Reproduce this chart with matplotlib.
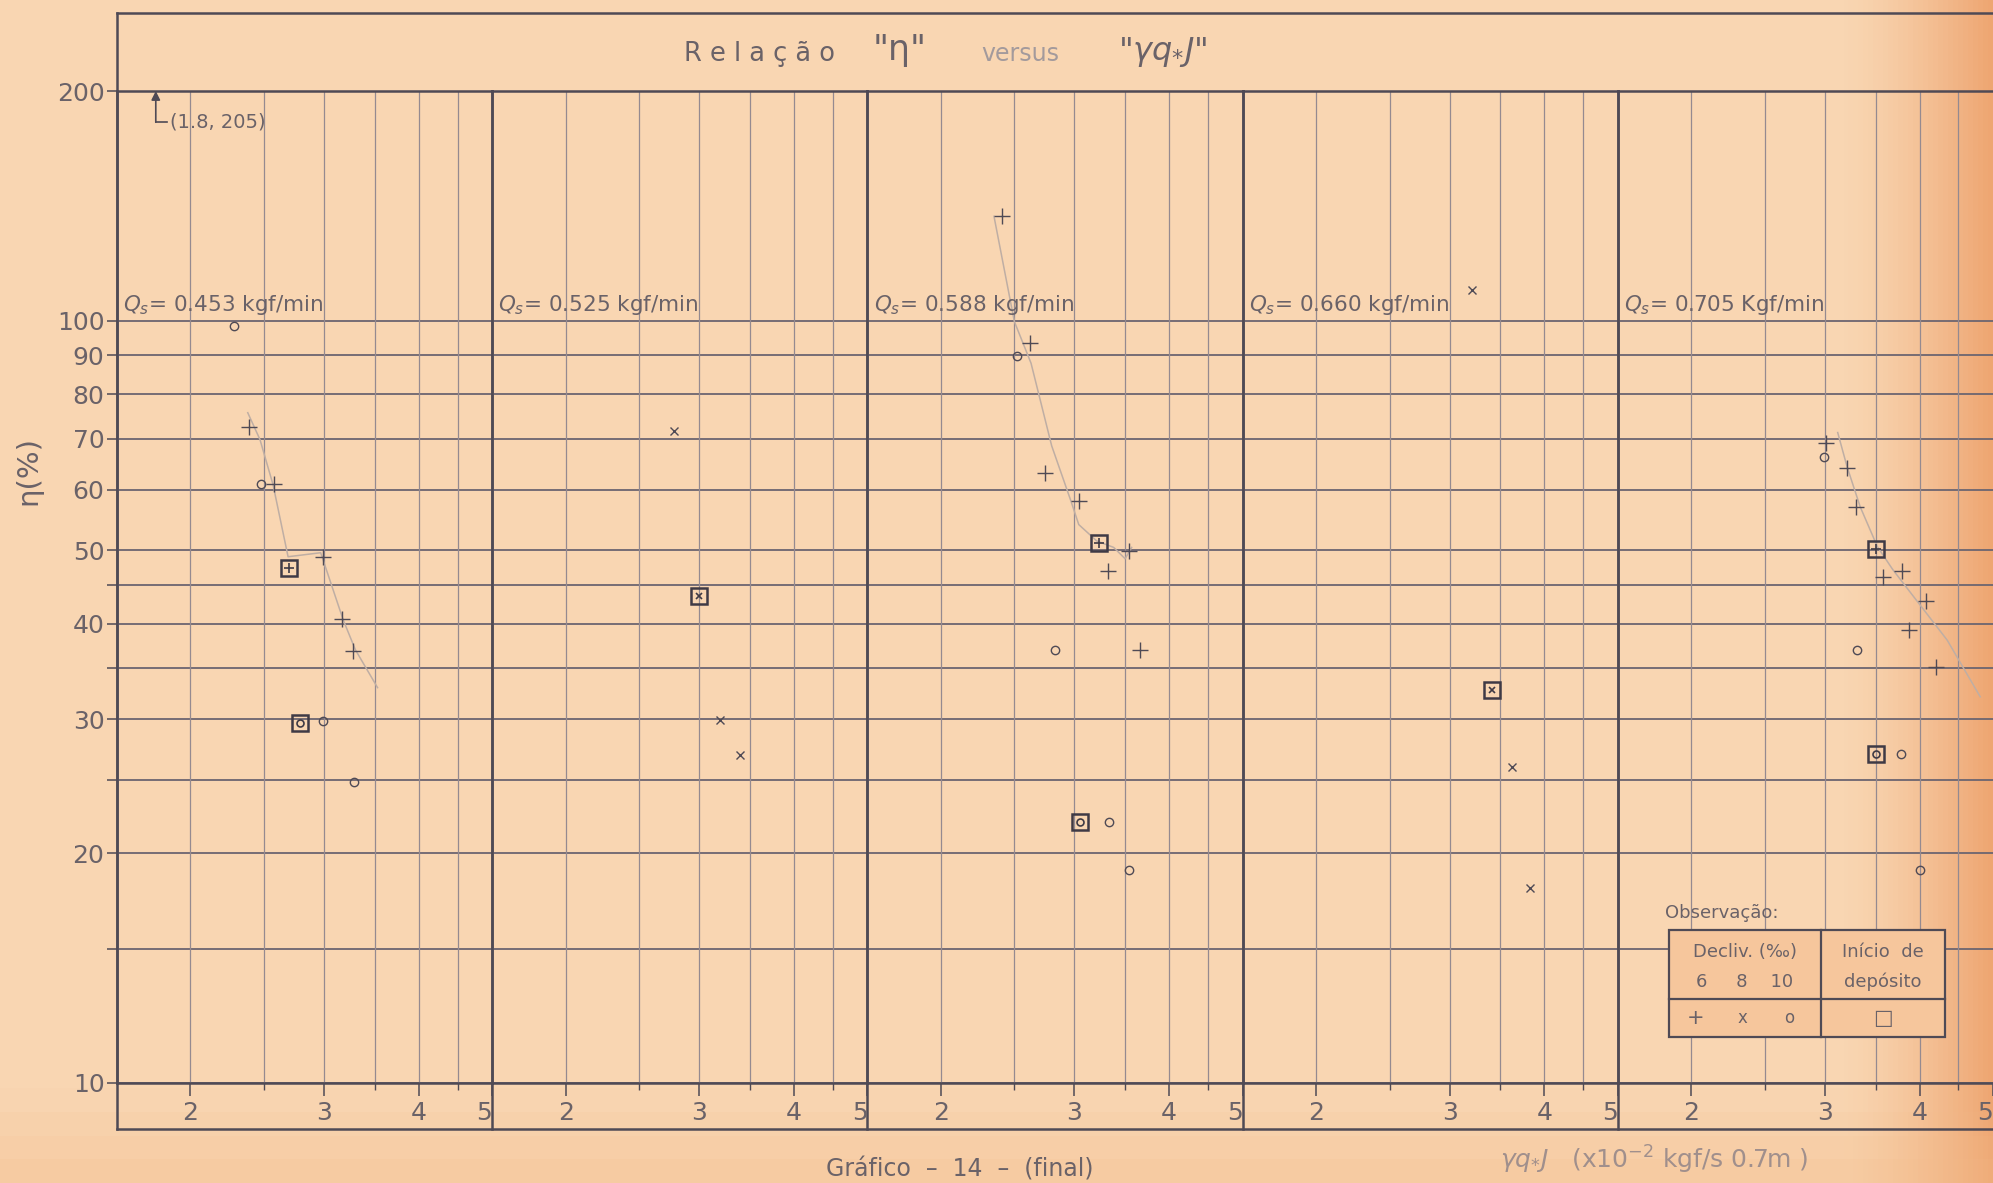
import numpy as np
import matplotlib
matplotlib.use("Agg")
import matplotlib.pyplot as plt
from matplotlib.patches import Rectangle

# ---- data ----
qs_labels = ["0.453 kgf/min", "0.525 kgf/min", "0.588 kgf/min", "0.660 kgf/min", "0.705 Kgf/min"]

# slope 6 per mil  (+)
plus_x = [[2.39, 2.58, 2.99, 3.17, 3.28],
          [],
          [2.41, 2.62, 2.74, 3.04, 3.32, 3.54, 3.66],
          [],
          [3.01, 3.21, 3.30, 3.58, 3.79, 4.08, 3.88, 4.20]]
plus_y = [[72.4, 61.0, 48.9, 40.6, 36.9],
          [],
          [137, 93.3, 63.1, 58.0, 46.9, 49.9, 37.0],
          [],
          [69.0, 64.0, 57.0, 46.1, 46.9, 42.9, 39.3, 35.1]]

# slope 8 per mil  (x)
cross_x = [[], [2.78, 3.20, 3.40], [], [3.21, 3.63, 3.83], []]
cross_y = [[], [71.7, 29.9, 26.9], [], [109.6, 26.0, 18.0], []]

# slope 10 per mil  (o)
circ_x = [[2.28, 2.48, 2.99, 3.29], [], [2.52, 2.83, 3.33, 3.54], [], [2.99, 3.31, 3.78, 4.01]]
circ_y = [[98.5, 61.0, 29.8, 24.8], [], [89.9, 37.0, 22.0, 19.0], [], [66.2, 37.0, 27.0, 19.0]]

# start of deposit (square), with the slope symbol drawn inside
dep_x = [[2.70, 2.79], [3.00], [3.23, 3.05], [3.41], [3.51, 3.51]]
dep_y = [[47.3, 29.7], [43.5], [51.1, 22.0], [32.8], [50.1, 27.0]]
dep_in = [["+", "o"], ["x"], ["+", "o"], ["x"], ["+", "o"]]

# hand drawn trend curves
curve_x = [[2.38, 2.47, 2.57, 2.69, 2.97, 3.18, 3.30, 3.53],
           [],
           [2.35, 2.50, 2.63, 2.80, 2.97, 3.04, 3.21, 3.38, 3.50, 3.57],
           [],
           [3.12, 3.21, 3.34, 3.52, 3.69, 3.96, 4.35, 4.81]]
curve_y = [[75.7, 69.8, 60.9, 49.0, 49.6, 40.5, 37.0, 33.0],
           [],
           [137, 99.7, 87.9, 68.5, 57.9, 54.0, 51.4, 50.4, 48.7, 50.4],
           [],
           [71.3, 64.3, 57.0, 50.5, 47.1, 43.0, 38.1, 32.1]]

y_grid = [10, 15, 20, 25, 30, 35, 40, 45, 50, 60, 70, 80, 90, 100, 200]
y_labels = ["10", "", "20", "", "30", "", "40", "", "50", "60", "70", "80", "90", "100", "200"]
x_grid = [2, 2.5, 3, 3.5, 4, 4.5]
x_ticks = [2, 3, 4, 5]
x_minor = [2.5, 3.5, 4.5]
note_xy = (1.8, 182)

# ---- styling ----
W, H = 1993, 1183
ink = "#4f4a55"
grid_c = "#6c6570"
vgrid_c = "#958a90"
txt_c = "#6a6268"
light = "#bfaea4"
plt.rcParams["font.family"] = ["DejaVu Sans"]

fig = plt.figure(figsize=(W / 100, H / 100), dpi=100)

# paper background (peach, darker orange toward the right edge)
bg = fig.add_axes([0, 0, 1, 1])
bg.set_xlim(0, W)
bg.set_ylim(H, 0)
bg.axis("off")
xs = np.linspace(0, 1, 400)
base = np.array([249, 214, 178]) / 255
edge = np.array([238, 166, 114]) / 255
t = np.clip((xs - 0.925) / 0.075, 0, 1) ** 1.4
row = base[None, :] * (1 - t[:, None]) + edge[None, :] * t[:, None]
img = np.repeat(row[None, :, :], 50, axis=0)
ys = np.linspace(0, 1, 50)
tb = np.clip((ys - 0.93) / 0.07, 0, 1)[:, None, None] * 0.35
img = img * (1 - tb) + (np.array([242, 185, 135]) / 255) * tb
bg.imshow(img, extent=[0, W, H, 0], aspect="auto", zorder=0)

left0, top_frame, y200, y10, strip_b = 117, 13, 91, 1083, 1129
pw = (W - left0) / 5

# outer frame and title box
bg.plot([left0, W], [top_frame, top_frame], color=ink, lw=1.8, zorder=2)
bg.plot([left0, left0], [top_frame, strip_b], color=ink, lw=1.8, zorder=2)
bg.plot([left0, W], [strip_b, strip_b], color=ink, lw=1.8, zorder=2)
for k in range(1, 5):
    xd = left0 + k * pw
    bg.plot([xd, xd], [y10, strip_b], color=ink, lw=1.8, zorder=2)

bg.text(760, 54, "R e l a ç ã o", fontsize=18.5, color=txt_c, ha="center", va="center")
bg.text(900, 50, '"η"', fontsize=25, color=txt_c, ha="center", va="center")
bg.text(1020, 54, "versus", fontsize=17, color="#a39a9c", ha="center", va="center")
bg.text(1163, 52, r'"$\gamma q_{*}J$"', fontsize=23, color=txt_c, ha="center", va="center")
bg.text(28, 470, "η(%)", fontsize=21, color=txt_c, rotation=90, ha="center", va="center")
bg.text(1500, 1160, r"$\gamma q_{*}J$   (x10$^{-2}$ kgf/s 0.7m )", fontsize=18,
        color="#a08f8c", ha="left", va="center")
bg.text(826, 1181, "Gráfico  –  14  –  (final)", fontsize=17, color=txt_c,
        ha="left", va="bottom")

axes = []
for k in range(5):
    ax = fig.add_axes([(left0 + k * pw) / W, (H - y10) / H, pw / W, (y10 - y200) / H])
    ax.patch.set_alpha(0)
    ax.set_xscale("log")
    ax.set_yscale("log")
    ax.set_xlim(1.6, 5)
    ax.set_ylim(10, 200)
    for yv in y_grid:
        ax.axhline(yv, color=grid_c, lw=1.3, zorder=1)
    for xv in x_grid:
        ax.axvline(xv, color=vgrid_c, lw=0.9, zorder=1)
    for sp in ax.spines.values():
        sp.set_color(ink)
        sp.set_linewidth(1.8)
    if k == 4:
        ax.spines["right"].set_visible(False)

    ax.set_xticks(x_ticks)
    ax.set_xticklabels([str(v) for v in x_ticks])
    ax.set_xticks(x_minor, minor=True)
    ax.xaxis.set_minor_formatter(plt.NullFormatter())
    ax.tick_params(axis="x", which="major", direction="out", length=9, width=1.1,
                   color=ink, labelsize=18, labelcolor=txt_c, pad=4)
    ax.tick_params(axis="x", which="minor", direction="out", length=5, width=1.0, color=ink)
    labs = ax.get_xticklabels()
    labs[-1].set_horizontalalignment("right")

    ax.set_yticks(y_grid)
    ax.yaxis.set_minor_locator(plt.NullLocator())
    if k == 0:
        ax.set_yticklabels(y_labels)
        ax.tick_params(axis="y", direction="out", length=7, width=1.1, color=ink,
                       labelsize=18, labelcolor=txt_c, pad=2)
    else:
        ax.set_yticklabels([])
        ax.tick_params(axis="y", length=0)

    ax.text(1.63, 101, r"$Q_s$= " + qs_labels[k], fontsize=15.5, color=txt_c,
            ha="left", va="bottom", zorder=5)

    # trend curve
    if curve_x[k]:
        ax.plot(curve_x[k], curve_y[k], color=light, lw=1.1, zorder=2)

    # observations
    ax.plot(plus_x[k], plus_y[k], ls="none", marker="+", ms=11, mew=1.0, color=ink, zorder=4)
    ax.plot(cross_x[k], cross_y[k], ls="none", marker="x", ms=6, mew=1.0, color=ink, zorder=4)
    ax.plot(circ_x[k], circ_y[k], ls="none", marker="o", ms=6, mew=1.0, mfc="none",
            mec=ink, zorder=4)
    ax.plot(dep_x[k], dep_y[k], ls="none", marker="s", ms=11, mew=1.8, mfc="none",
            mec="#3f3a45", zorder=4)
    for xv, yv, m in zip(dep_x[k], dep_y[k], dep_in[k]):
        ax.plot([xv], [yv], ls="none", marker=m, ms=7 if m == "+" else 5, mew=1.2,
                mfc="none", mec="#3f3a45", color="#3f3a45", zorder=4)
    axes.append(ax)

# note at the upper left of the first panel
ax0 = axes[0]
ax0.annotate("", xy=(note_xy[0], 200), xytext=note_xy,
             arrowprops=dict(arrowstyle="-|>", color=ink, lw=1.2, mutation_scale=13,
                             shrinkA=0, shrinkB=0), zorder=5)
ax0.plot([note_xy[0], 1.86], [note_xy[1], note_xy[1]], color=ink, lw=1.2, zorder=5)
ax0.text(1.88, note_xy[1], "(1.8, 205)", fontsize=14, color=txt_c, ha="left", va="center")

# legend table inside the last panel, on an overlay above the grid
ov = fig.add_axes([0, 0, 1, 1])
ov.set_xlim(0, W)
ov.set_ylim(H, 0)
ov.axis("off")
ov.patch.set_alpha(0)
ov.text(1665, 913, "Observação:", fontsize=13, color=txt_c, ha="left", va="center")
ov.add_patch(Rectangle((1669, 930), 276, 107, facecolor=(246 / 255, 198 / 255, 156 / 255),
                       edgecolor=ink, lw=1.6, zorder=2))
ov.plot([1821, 1821], [930, 1037], color=ink, lw=1.6, zorder=3)
ov.plot([1669, 1945], [999, 999], color=ink, lw=1.6, zorder=3)
ov.text(1745, 952, "Decliv. (‰)", fontsize=13, color=txt_c, ha="center", va="center", zorder=4)
ov.text(1745, 982, "6     8    10", fontsize=13, color=txt_c, ha="center", va="center", zorder=4)
ov.text(1883, 952, "Início  de", fontsize=13, color=txt_c, ha="center", va="center", zorder=4)
ov.text(1883, 982, "depósito", fontsize=13, color=txt_c, ha="center", va="center", zorder=4)
ov.text(1696, 1018, "+", fontsize=15, color=txt_c, ha="center", va="center", zorder=4)
ov.text(1742, 1018, "x", fontsize=12, color=txt_c, ha="center", va="center", zorder=4)
ov.text(1789, 1018, "o", fontsize=12, color=txt_c, ha="center", va="center", zorder=4)
ov.text(1883, 1018, "□", fontsize=15, color=txt_c, ha="center", va="center", zorder=4)

fig.savefig("out.png", dpi=100)
